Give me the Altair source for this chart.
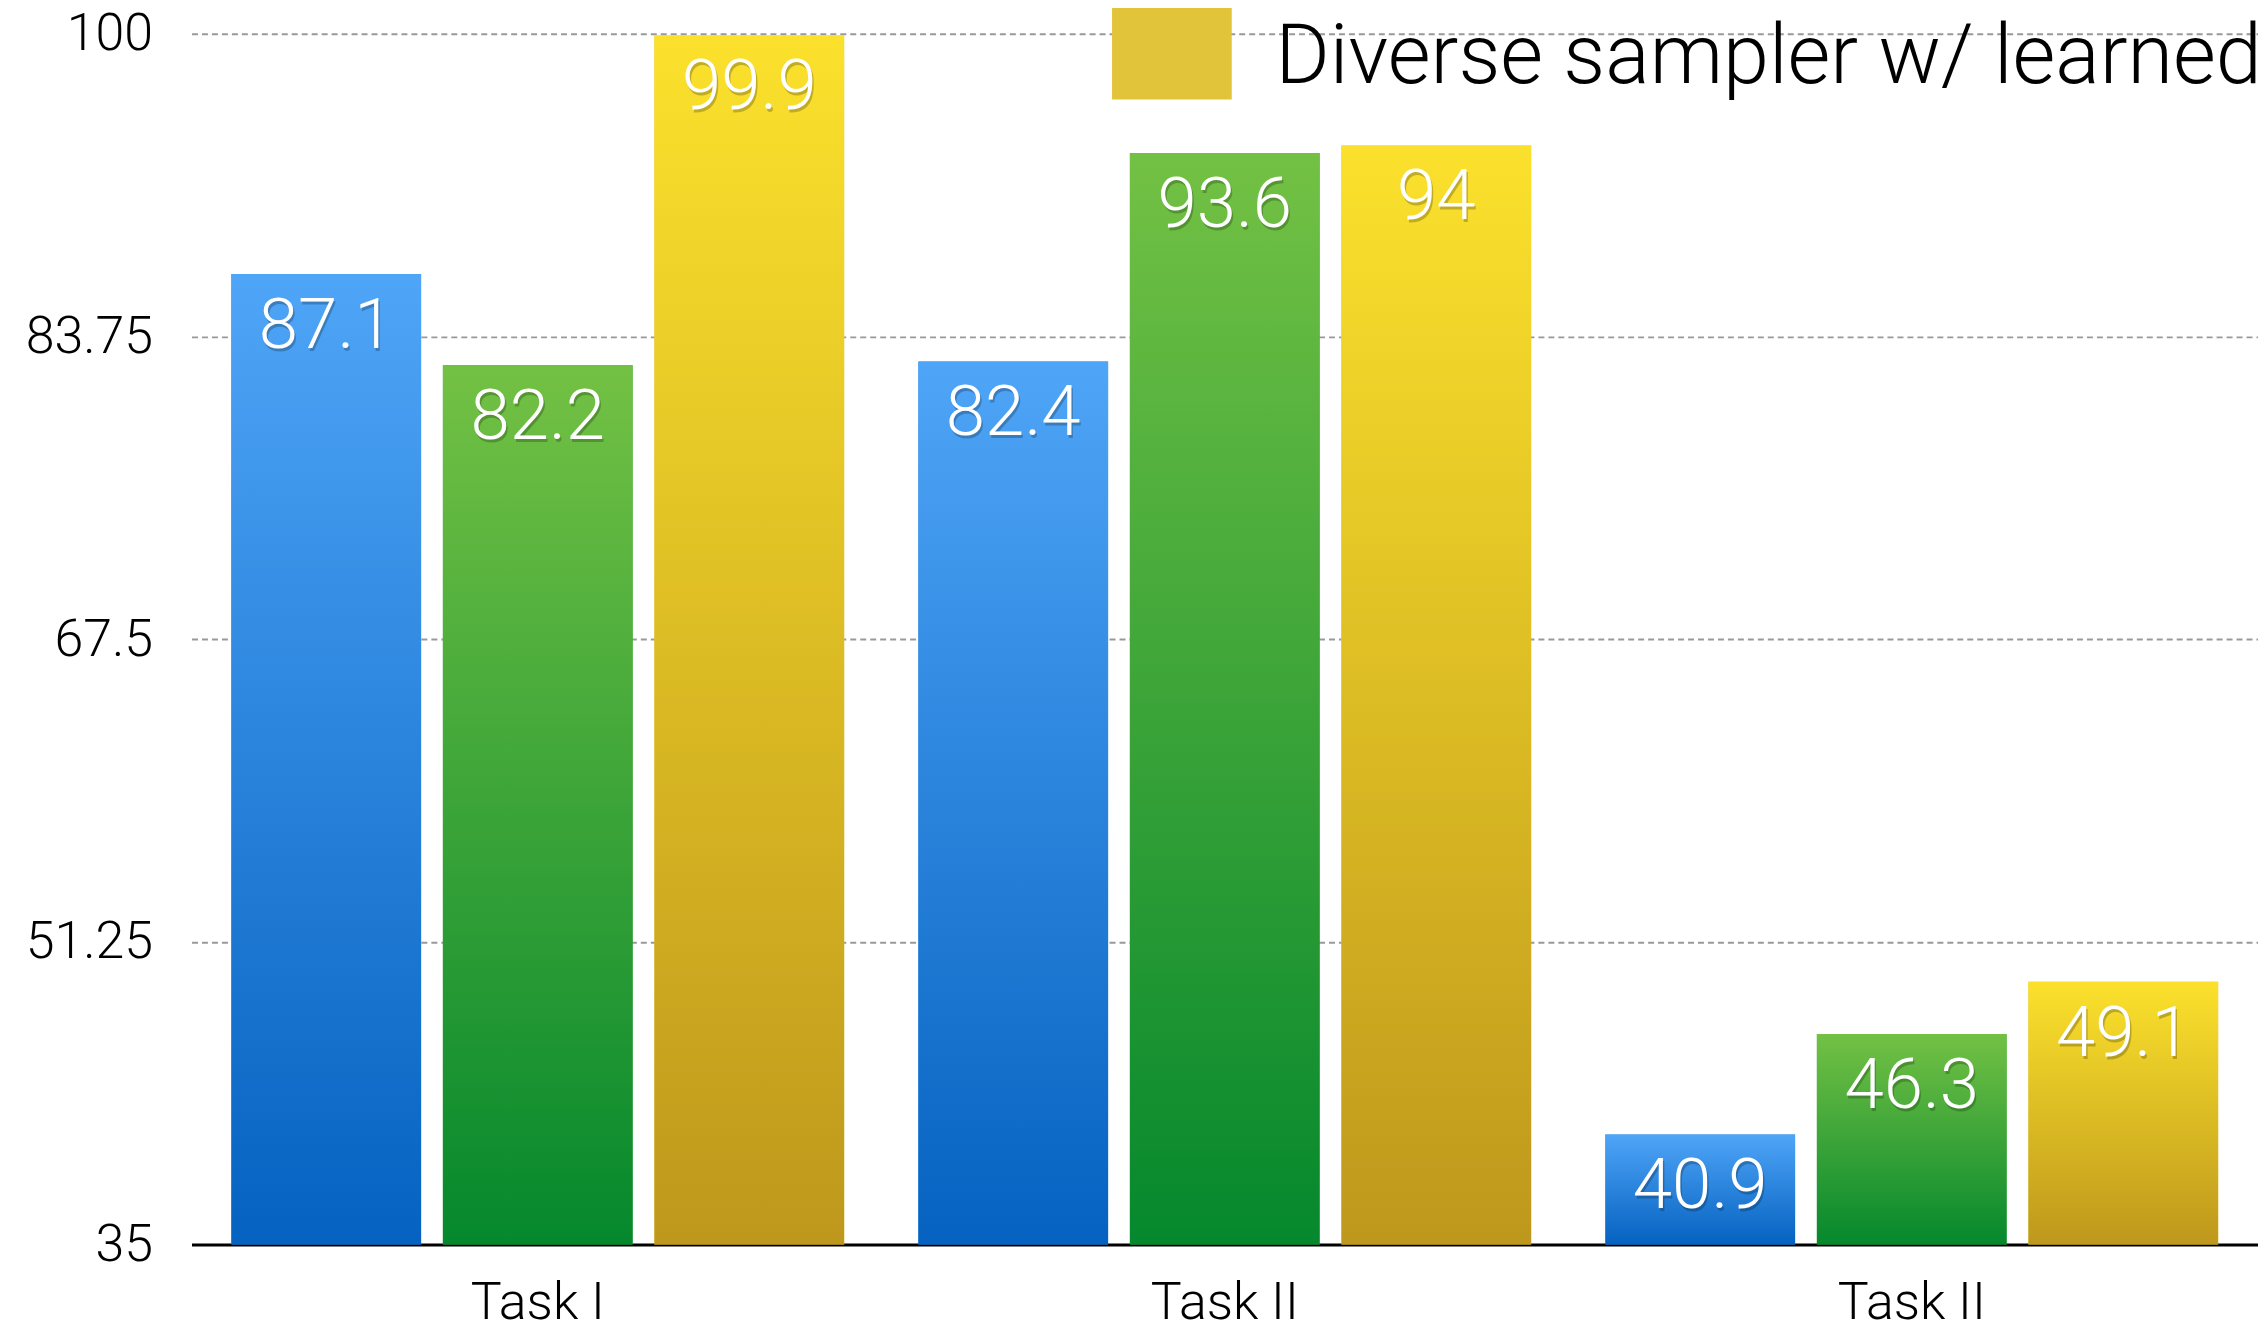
import altair as alt
import pandas as pd

task_ids = [0, 1, 2]
task_labels = ["Task I", "Task II", "Task II"]
series = ["Random sampler", "Diverse sampler", "Diverse sampler w/ learned"]
values_blue = [87.1, 82.4, 40.9]
values_green = [82.2, 93.6, 46.3]
values_yellow = [99.9, 94, 49.1]
y_ticks = [35, 51.25, 67.5, 83.75, 100]

rows = []
for i, t in enumerate(task_ids):
    for s, vals in zip(series, [values_blue, values_green, values_yellow]):
        rows.append({"task": t, "series": s, "value": vals[i]})
df = pd.DataFrame(rows)

FONT = "Roboto"


def grad(top, bottom):
    return {
        "gradient": "linear",
        "x1": 0, "y1": 0, "x2": 0, "y2": 1,
        "stops": [{"offset": 0, "color": top}, {"offset": 1, "color": bottom}],
    }


g_blue = grad("#4fa5f7", "#0562c0")
g_green = grad("#73c144", "#05882d")
g_yellow = grad("#fbe12c", "#be981c")

label_js = "[" + ",".join("'" + l + "'" for l in task_labels) + "][datum.value]"

x_enc = alt.X(
    "task:O",
    scale=alt.Scale(paddingInner=0.108, paddingOuter=0.058),
    axis=alt.Axis(
        title=None, labelExpr=label_js, labelAngle=0, ticks=False,
        domainColor="#000000", domainWidth=3, labelFontSize=52,
        labelFont=FONT, labelFontWeight=300, labelColor="#000000",
        labelPadding=33, grid=False,
    ),
)
xo_enc = alt.XOffset(
    "series:N", scale=alt.Scale(domain=series, paddingInner=0.103, paddingOuter=0)
)
y_enc = alt.Y(
    "value:Q",
    scale=alt.Scale(domain=[y_ticks[0], y_ticks[-1]], nice=False, zero=False),
    axis=alt.Axis(
        title=None, values=y_ticks, labelExpr="'' + datum.value", domain=False,
        ticks=False, grid=True, gridDash=[6, 4], gridColor="#999999",
        gridWidth=2, labelFontSize=52, labelFont=FONT, labelFontWeight=300,
        labelColor="#000000", labelPadding=39,
    ),
)
y2_enc = alt.Y2(datum=y_ticks[0])

fill_rule = (
    alt.when(alt.datum.series == series[0]).then(alt.value(g_blue))
    .when(alt.datum.series == series[1]).then(alt.value(g_green))
    .otherwise(alt.value(g_yellow))
)

# flat-colour bars carry the legend; gradient bars are drawn over them
flat_bars = alt.Chart(df).mark_bar().encode(
    x=x_enc,
    xOffset=xo_enc,
    y=y_enc,
    y2=y2_enc,
    color=alt.Color(
        "series:N",
        scale=alt.Scale(domain=series, range=["#2a8de6", "#3ca63b", "#e2c43a"]),
        legend=alt.Legend(
            values=[series[2]], title=None, orient="none", legendX=923,
            legendY=-36, padding=0, symbolType="M-1,-1.2L1,-1.2L1,0.7L-1,0.7Z",
            symbolSize=14400, symbolStrokeWidth=0, symbolOpacity=1,
            labelFontSize=83, labelFont=FONT, labelFontWeight=300,
            labelColor="#000000", labelOffset=44, labelLimit=3000,
        ),
    ),
)

grad_bars = alt.Chart(df).mark_bar().encode(
    x="task:O",
    xOffset=xo_enc,
    y="value:Q",
    y2=y2_enc,
    fill=fill_rule,
)

base_text = alt.Chart(df).transform_calculate(label="'' + datum.value")

shadow = base_text.mark_text(
    fontSize=71, font=FONT, fontWeight=300, color="#000000", opacity=0.22,
    baseline="alphabetic", dy=77, dx=1.5,
).encode(x="task:O", xOffset=xo_enc, y="value:Q", text="label:N")

labels = base_text.mark_text(
    fontSize=71, font=FONT, fontWeight=300, color="#ffffff",
    baseline="alphabetic", dy=74,
).encode(x="task:O", xOffset=xo_enc, y="value:Q", text="label:N")

chart = (
    alt.layer(flat_bars, grad_bars, shadow, labels)
    .properties(
        width=2072, height=1214,
        autosize=alt.AutoSizeParams(type="none"),
        padding={"left": 184, "top": 24, "right": 0, "bottom": 78},
        background="#ffffff",
    )
    .configure_view(strokeWidth=0)
)

chart.save("out.html", embed_options={"renderer": "svg", "actions": False})
